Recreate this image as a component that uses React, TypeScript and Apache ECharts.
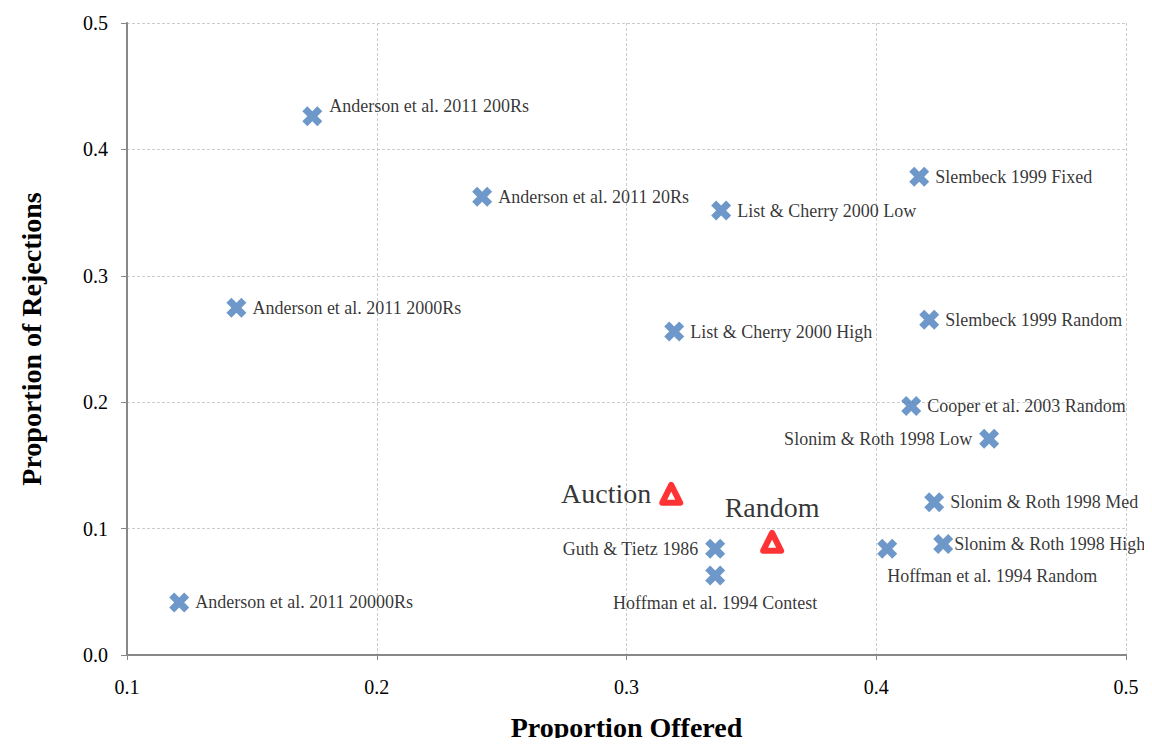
import React, { useEffect, useRef } from "react";
import * as echarts from "echarts";

const studyNames = [
  "Anderson et al. 2011 200Rs",
  "Anderson et al. 2011 20Rs",
  "Anderson et al. 2011 2000Rs",
  "Anderson et al. 2011 20000Rs",
  "List & Cherry 2000 Low",
  "List & Cherry 2000 High",
  "Slembeck 1999 Fixed",
  "Slembeck 1999 Random",
  "Cooper et al. 2003 Random",
  "Slonim & Roth 1998 Low",
  "Slonim & Roth 1998 Med",
  "Slonim & Roth 1998 High",
  "Hoffman et al. 1994 Random",
  "Guth & Tietz 1986",
  "Hoffman et al. 1994 Contest",
];
const studyOffered = [0.1742, 0.2422, 0.1438, 0.1209, 0.3379, 0.3191, 0.4172, 0.4212, 0.414, 0.4452, 0.4232, 0.4268, 0.4044, 0.3355, 0.3355];
const studyRejected = [0.4262, 0.3626, 0.2747, 0.0416, 0.3516, 0.2559, 0.3783, 0.2653, 0.197, 0.1711, 0.1209, 0.0879, 0.084, 0.084, 0.0628];

const treatNames = ["Auction", "Random"];
const treatOffered = [0.3179, 0.3583];
const treatRejected = [0.1275, 0.0895];

const xTicks = [0.1, 0.2, 0.3, 0.4, 0.5];
const yTicks = [0.0, 0.1, 0.2, 0.3, 0.4, 0.5];

const FONT = "'Liberation Serif', 'DejaVu Serif', serif";
const XPATH = "path://M0,2.5 L2.5,0 L5,2.5 L7.5,0 L10,2.5 L7.5,5 L10,7.5 L7.5,10 L5,7.5 L2.5,10 L0,7.5 L2.5,5 Z";

const labelStyle: Record<string, any> = {
  "Anderson et al. 2011 200Rs": { position: "right", distance: 7, offset: [0, -10] },
  "Slonim & Roth 1998 Low": { position: "left", distance: 7 },
  "Guth & Tietz 1986": { position: "left", distance: 7 },
  "Hoffman et al. 1994 Random": { position: "bottom", distance: 8, offset: [105, 0] },
  "Hoffman et al. 1994 Contest": { position: "bottom", distance: 8, offset: [0, 0] },
  "Slonim & Roth 1998 High": { position: "right", distance: 1 },
};

export default function App() {
  const ref = useRef<HTMLDivElement>(null);
  useEffect(() => {
    if (!ref.current) return;
    const chart = echarts.init(ref.current, undefined, { renderer: "svg" });
    const studyData = studyNames.map((n, i) => ({
      name: n,
      value: [studyOffered[i], studyRejected[i]],
      label: { show: true, formatter: n, ...(labelStyle[n] || { position: "right", distance: 6 }) },
    }));
    const treatData = treatNames.map((n, i) => ({
      name: n,
      value: [treatOffered[i], treatRejected[i]],
      label:
        n === "Auction"
          ? { show: true, formatter: n, position: "left", distance: 8 }
          : { show: true, formatter: n, position: "top", distance: 8 },
    }));
    chart.setOption({
      animation: false,
      backgroundColor: "#ffffff",
      textStyle: { fontFamily: FONT },
      grid: { left: 127, right: 26, top: 23, bottom: 86, containLabel: false },
      xAxis: {
        type: "value",
        min: xTicks[0],
        max: xTicks[xTicks.length - 1],
        interval: 0.1,
        name: "Proportion Offered",
        nameLocation: "middle",
        nameGap: 58,
        nameTextStyle: { fontFamily: FONT, fontSize: 28, fontWeight: "bold", color: "#000" },
        axisLine: { show: true, lineStyle: { color: "#888888", width: 2 } },
        axisTick: { show: true, length: 5, lineStyle: { color: "#888888", width: 1 } },
        axisLabel: {
          fontFamily: FONT,
          fontSize: 20,
          color: "#000",
          margin: 22,
          formatter: (v: number) => v.toFixed(1),
        },
        splitLine: { show: true, lineStyle: { color: "#cccccc", type: [3, 2], width: 1 } },
      },
      yAxis: {
        type: "value",
        min: yTicks[0],
        max: yTicks[yTicks.length - 1],
        interval: 0.1,
        name: "Proportion of Rejections",
        nameLocation: "middle",
        nameGap: 82,
        nameRotate: 90,
        nameTextStyle: { fontFamily: FONT, fontSize: 28, fontWeight: "bold", color: "#000" },
        axisLine: { show: true, lineStyle: { color: "#888888", width: 2 } },
        axisTick: { show: true, length: 6, lineStyle: { color: "#888888", width: 1 } },
        axisLabel: {
          fontFamily: FONT,
          fontSize: 20,
          color: "#000",
          margin: 19,
          formatter: (v: number) => v.toFixed(1),
        },
        splitLine: { show: true, lineStyle: { color: "#cccccc", type: [3, 2], width: 1 } },
      },
      series: [
        {
          type: "scatter",
          name: "Studies",
          symbol: XPATH,
          symbolSize: 20,
          itemStyle: { color: "#4A7EBB" },
          label: { fontFamily: FONT, fontSize: 18, color: "#000" },
          data: studyData,
          z: 3,
        },
        {
          type: "scatter",
          name: "Treatments",
          symbol: "triangle",
          symbolSize: 18,
          itemStyle: { color: "#ffffff", borderColor: "#ff0000", borderWidth: 6, borderJoin: "round" },
          label: { fontFamily: FONT, fontSize: 28, color: "#000" },
          data: treatData,
          z: 4,
        },
      ],
    });
    return () => chart.dispose();
  }, []);
  return <div ref={ref} style={{ width: 1152, height: 746, margin: -8 }} />;
}
